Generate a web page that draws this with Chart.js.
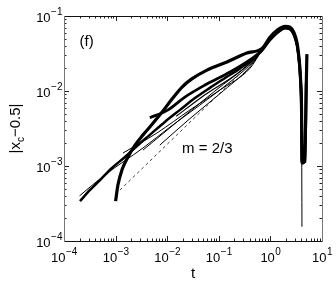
<!DOCTYPE html>
<html>
<head>
<meta charset="utf-8">
<script src="https://cdn.jsdelivr.net/npm/chart.js@4"></script>
<style>
  html, body { margin: 0; padding: 0; background: #fff; }
  canvas { display: block; }
</style>
</head>
<body>
<canvas id="chart" width="336" height="285"></canvas>
<script>
// axis decades (tick labels are 10^exp)
const xTickExps = [-4, -3, -2, -1, 0, 1];
const yTickExps = [-4, -3, -2, -1];

// shared part of every run after t ~ 0.7 (peak and zero crossing)
const tailT   = [0.69, 0.98, 1.40, 1.92, 2.40, 2.87, 3.28, 3.58, 3.83, 4.01];
const tailY   = [0.035, 0.048, 0.061, 0.069, 0.067, 0.056, 0.041, 0.026, 0.014, 0.0056];
const tailHiY = [0.037, 0.052, 0.066, 0.073, 0.071, 0.060, 0.044, 0.028, 0.015, 0.006];

// ends after the zero crossing
const endDeepT = [4.09];
const endDeepY = [1.55e-4];
const endV1T = [4.10, 4.55, 5.10];
const endV1Y = [1.1e-3, 1.15e-3, 0.031];
const endV2T = [4.12, 4.70, 4.95];
const endV2Y = [1.1e-3, 1.15e-3, 0.013];
const endFlatT = [4.12, 4.45];
const endFlatY = [1.1e-3, 1.1e-3];

// early parts of the runs
const tA = [2.04e-4, 3.2e-4, 5.0e-4, 8.5e-4, 1.52e-3, 2.6e-3, 4.6e-3, 9.1e-3, 1.77e-2, 3.5e-2, 6.7e-2, 0.132, 0.258, 0.50];
const yA = [3.4e-4, 4.8e-4, 6.5e-4, 9.4e-4, 1.32e-3, 1.85e-3, 2.6e-3, 3.9e-3, 5.6e-3, 8.1e-3, 1.1e-2, 1.49e-2, 2.0e-2, 2.8e-2];

const tB = [1.0e-3, 1.11e-3, 1.33e-3, 1.74e-3, 2.38e-3, 3.4e-3, 5.1e-3, 7.9e-3, 1.24e-2, 1.94e-2, 3.0e-2, 5.9e-2, 0.144, 0.35];
const yB = [3.4e-4, 5.6e-4, 8.9e-4, 1.32e-3, 1.9e-3, 2.6e-3, 3.6e-3, 5.2e-3, 7.8e-3, 1.13e-2, 1.45e-2, 1.9e-2, 2.44e-2, 3.2e-2];

const tC = [2.0e-4, 6.2e-4, 3.4e-3, 1.13e-2, 4.3e-2, 0.165, 0.50];
const yC = [4.0e-4, 7.6e-4, 1.74e-3, 3.3e-3, 6.5e-3, 1.32e-2, 2.6e-2];

const tD = [1.39e-3, 6.3e-3, 2.77e-2, 0.105, 0.40];
const yD = [1.49e-3, 2.75e-3, 5.6e-3, 1.03e-2, 2.0e-2];

const tE = [4.6e-3, 1.04e-2, 2.2e-2, 5.4e-2, 0.165, 0.40];
const yE = [4.4e-3, 5.6e-3, 8.3e-3, 1.2e-2, 1.79e-2, 2.6e-2];

const tT1 = [3.4e-3, 1.94e-2, 8.4e-2, 0.40];
const yT1 = [1.63e-3, 4.4e-3, 1.0e-2, 2.35e-2];

const tT2 = [7.2e-3, 2.77e-2, 0.105, 0.40];
const yT2 = [1.9e-3, 4.3e-3, 9.2e-3, 2.1e-2];

const tT4 = [1.5e-2, 5.0e-2, 0.20, 0.45];
const yT4 = [4.6e-3, 8.6e-3, 1.6e-2, 2.5e-2];

// reference slope m = 2/3
const slopeT = [1.0e-3, 0.30];
const slopeY = [4.2e-4, 1.88e-2];

const FONT = '"Liberation Sans", Arial, Helvetica, sans-serif';

function pts(t, y, tt, ty, et, ey) {
  const xs = t.concat(tt || [], et || []);
  const ys = y.concat(ty || [], ey || []);
  return xs.map((v, i) => ({ x: v, y: ys[i] }));
}

function run(data, w) {
  return {
    data: data,
    borderColor: '#000',
    borderWidth: w,
    pointRadius: 0,
    showLine: true,
    fill: false,
    cubicInterpolationMode: 'monotone',
  };
}

const datasets = [
  run(pts(tC, yC, tailT, tailY, endDeepT, endDeepY), 1),
  run(pts(tD, yD, tailT, tailY, endFlatT, endFlatY), 1),
  run(pts(tT1, yT1, tailT, tailY, endFlatT, endFlatY), 1),
  run(pts(tT2, yT2, tailT, tailY, endFlatT, endFlatY), 1),
  run(pts(tT4, yT4, tailT, tailY, endFlatT, endFlatY), 1.2),
  run(pts(tA, yA, tailT, tailY, endFlatT, endFlatY), 2.5),
  run(pts(tE, yE, tailT, tailY, endV2T, endV2Y), 2.8),
  run(pts(tB, yB, tailT, tailHiY, endV1T, endV1Y), 3.2),
  {
    data: pts(slopeT, slopeY),
    borderColor: '#444',
    borderWidth: 1,
    borderDash: [3, 3],
    pointRadius: 0,
    showLine: true,
    fill: false,
  },
];

// axes box, inward ticks, 10^n labels and the texts
const frame = {
  id: 'frame',
  afterDatasetsDraw(chart) {
    const { ctx, chartArea: a, scales: { x, y } } = chart;
    ctx.save();

    ctx.lineWidth = 1;
    ctx.strokeStyle = '#222';
    for (let i = 0; i < xTickExps.length; i++) {
      const e = xTickExps[i];
      for (let m = 1; m <= 9; m++) {
        if (m > 1 && i === xTickExps.length - 1) break;
        const px = Math.round(x.getPixelForValue(m * Math.pow(10, e))) + 0.5;
        const len = m === 1 ? 5 : 2.5;
        ctx.beginPath();
        ctx.moveTo(px, a.bottom); ctx.lineTo(px, a.bottom - len);
        ctx.moveTo(px, a.top); ctx.lineTo(px, a.top + len);
        ctx.stroke();
      }
    }
    for (let i = 0; i < yTickExps.length; i++) {
      const e = yTickExps[i];
      for (let m = 1; m <= 9; m++) {
        if (m > 1 && i === yTickExps.length - 1) break;
        const py = Math.round(y.getPixelForValue(m * Math.pow(10, e))) + 0.5;
        const len = m === 1 ? 5 : 2.5;
        ctx.beginPath();
        ctx.moveTo(a.left, py); ctx.lineTo(a.left + len, py);
        ctx.moveTo(a.right, py); ctx.lineTo(a.right - len, py);
        ctx.stroke();
      }
    }

    // box
    ctx.strokeStyle = '#111';
    ctx.beginPath();
    ctx.moveTo(a.left, a.top + 0.5); ctx.lineTo(a.right, a.top + 0.5);
    ctx.moveTo(a.left, a.bottom + 0.5); ctx.lineTo(a.right, a.bottom + 0.5);
    ctx.stroke();
    ctx.strokeStyle = '#777';
    ctx.beginPath();
    ctx.moveTo(a.left + 0.5, a.top); ctx.lineTo(a.left + 0.5, a.bottom + 1);
    ctx.moveTo(a.right + 0.5, a.top); ctx.lineTo(a.right + 0.5, a.bottom + 1);
    ctx.stroke();

    // tick labels
    ctx.fillStyle = '#000';
    ctx.textAlign = 'left';
    ctx.textBaseline = 'alphabetic';
    const big = '13px ' + FONT, small = '10px ' + FONT;
    const expText = e => (e < 0 ? '\u2212' + (-e) : String(e));

    xTickExps.forEach(e => {
      const px = x.getPixelForValue(Math.pow(10, e));
      ctx.font = big; const w1 = ctx.measureText('10').width;
      ctx.font = small; const w2 = ctx.measureText(expText(e)).width;
      const x0 = px - (w1 + w2) / 2;
      ctx.font = big; ctx.fillText('10', x0, a.bottom + 21);
      ctx.font = small; ctx.fillText(expText(e), x0 + w1 + 0.5, a.bottom + 14);
    });

    yTickExps.forEach(e => {
      const py = y.getPixelForValue(Math.pow(10, e));
      ctx.font = small; const w2 = ctx.measureText(expText(e)).width;
      ctx.font = big; const w1 = ctx.measureText('10').width;
      const x0 = a.left - 2 - w2 - w1;
      ctx.font = big; ctx.fillText('10', x0, py + 6);
      ctx.font = small; ctx.fillText(expText(e), x0 + w1 + 0.5, py - 1);
    });

    // x title
    ctx.font = '15px ' + FONT;
    ctx.textAlign = 'center';
    ctx.fillText('t', (a.left + a.right) / 2, 278);

    // y title |x_c - 0.5|
    ctx.save();
    ctx.translate(20, (a.top + a.bottom) / 2);
    ctx.rotate(-Math.PI / 2);
    ctx.textAlign = 'left';
    const p1 = '|x', p2 = 'c', p3 = '\u22120.5|';
    ctx.font = '15px ' + FONT; const w1 = ctx.measureText(p1).width, w3 = ctx.measureText(p3).width;
    ctx.font = '10px ' + FONT; const w2 = ctx.measureText(p2).width;
    let cx = -(w1 + w2 + w3) / 2;
    ctx.font = '15px ' + FONT; ctx.fillText(p1, cx, 0); cx += w1;
    ctx.font = '10px ' + FONT; ctx.fillText(p2, cx, 4); cx += w2;
    ctx.font = '15px ' + FONT; ctx.fillText(p3, cx, 0);
    ctx.restore();

    // panel tag and slope note
    ctx.font = '15px ' + FONT;
    ctx.textAlign = 'left';
    ctx.fillText('(f)', x.getPixelForValue(2.0e-4), y.getPixelForValue(0.04));
    ctx.fillText('m = 2/3', x.getPixelForValue(1.94e-2), y.getPixelForValue(1.49e-3));

    ctx.restore();
  },
};

new Chart(document.getElementById('chart'), {
  type: 'scatter',
  data: { datasets: datasets },
  options: {
    responsive: false,
    animation: false,
    devicePixelRatio: 1,
    layout: { padding: { left: 64, right: 14, top: 16, bottom: 44 } },
    scales: {
      x: { type: 'logarithmic', min: 1e-4, max: 10, display: false },
      y: { type: 'logarithmic', min: 1e-4, max: 0.1, display: false },
    },
    plugins: { legend: { display: false }, tooltip: { enabled: false } },
  },
  plugins: [frame],
});
</script>
</body>
</html>
